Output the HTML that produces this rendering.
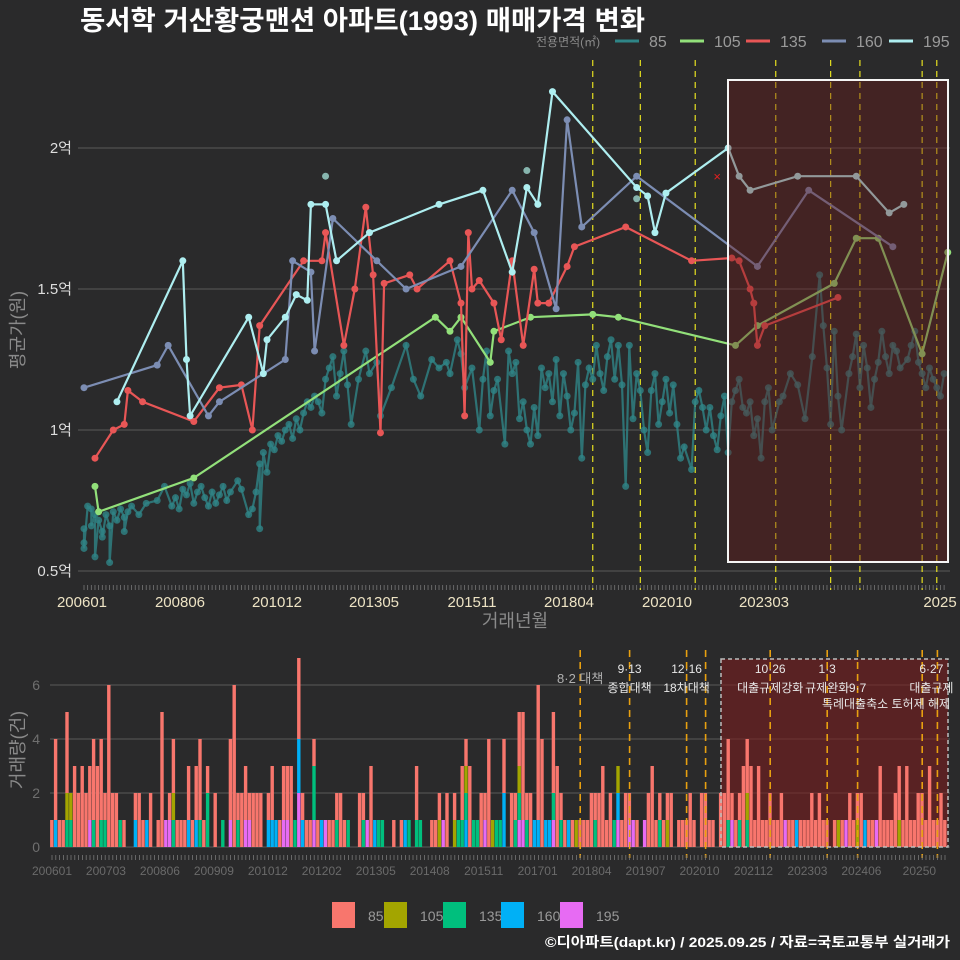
<!DOCTYPE html>
<html><head><meta charset="utf-8">
<style>
html,body{margin:0;padding:0;background:#2a2a2b;}
svg{display:block;font-family:"Liberation Sans","Noto Sans CJK KR",sans-serif;}
</style></head>
<body>
<svg id="chart" width="960" height="960" viewBox="0 0 960 960" xmlns="http://www.w3.org/2000/svg">
<rect x="0" y="0" width="960" height="960" fill="#2a2a2b"/>
<text x="80" y="30" fill="#ffffff" font-size="27" font-weight="bold" textLength="565" lengthAdjust="spacingAndGlyphs">동서학 거산황궁맨션 아파트(1993) 매매가격 변화</text>
<g id="topLegend">
<text x="536" y="46" fill="#8a8a8a" font-size="12">전용면적(㎡)</text>
</g>
<g id="topPanel"></g>
<g id="bottomPanel"></g>
<g id="botLegend"></g>
<text x="950" y="947" text-anchor="end" fill="#ffffff" font-size="14" font-weight="bold" textLength="405" lengthAdjust="spacingAndGlyphs">©디아파트(dapt.kr) / 2025.09.25 / 자료=국토교통부 실거래가</text>
</svg>
<script>
// ---------- data (months since 2006-01) ----------
const sizeLabels = ["85","105","135","160","195"];
const lineColors = ["#2f8587","#92e07a","#e85656","#7c8db3","#aeeef0"];
const barColors = ["#f8766d","#a3a500","#00bf7d","#00b0f6","#e76bf3"];

const t195 = [9,27,28,29,45,49,50,55,58,61,62,66,69,78,97,109,117,121,124,128,151,154,156,159,176,179,182,195,211,220,224];
const v195 = [1.10,1.60,1.25,1.05,1.40,1.20,1.32,1.40,1.48,1.46,1.80,1.80,1.60,1.70,1.80,1.85,1.56,1.86,1.80,2.20,1.86,1.83,1.70,1.84,2.00,1.90,1.85,1.90,1.90,1.77,1.80];
const t160 = [0,20,23,34,37,55,57,62,63,68,80,88,103,117,123,129,132,136,151,184,198,221];
const v160 = [1.15,1.23,1.30,1.05,1.10,1.25,1.60,1.56,1.28,1.75,1.60,1.50,1.58,1.85,1.70,1.43,2.10,1.72,1.90,1.58,1.85,1.65];
const t135 = [3,8,11,12,16,30,37,43,46,48,60,65,66,71,74,77,79,81,82,89,91,100,103,104,105,106,108,112,114,117,120,123,124,127,132,134,148,166,177,179,182,183,184,186,206];
const v135 = [0.90,1.00,1.02,1.14,1.10,1.03,1.15,1.16,1.00,1.37,1.60,1.60,1.70,1.30,1.50,1.79,1.55,0.99,1.52,1.55,1.50,1.60,1.45,1.05,1.70,1.50,1.53,1.45,1.32,1.60,1.30,1.57,1.45,1.45,1.58,1.65,1.72,1.60,1.61,1.60,1.50,1.45,1.30,1.37,1.47];
const t105 = [3,4,30,96,100,103,111,112,122,139,146,178,184,205,211,217,229,236];
const v105 = [0.80,0.71,0.83,1.40,1.35,1.40,1.24,1.35,1.40,1.41,1.40,1.30,1.37,1.52,1.68,1.68,1.27,1.63];
const t85 = [0,0,0,1,2,2,3,3,4,5,5,6,7,7,8,9,10,11,11,12,13,15,17,20,22,24,25,26,27,28,29,30,31,32,33,34,35,36,37,38,39,40,42,43,45,46,47,48,48,49,50,51,52,53,54,55,56,57,58,59,60,61,62,63,64,65,66,67,68,69,70,71,72,73,75,77,78,80,81,84,88,90,92,95,97,99,100,102,103,104,106,108,109,110,111,112,113,115,116,117,118,119,120,121,122,123,124,125,126,127,128,129,130,131,132,133,134,135,136,137,138,139,140,141,142,143,144,145,146,147,148,149,150,151,152,153,154,155,156,157,158,159,160,161,162,163,164,166,167,168,169,170,171,172,173,174,175,176,177,178,179,180,181,182,183,184,185,186,187,188,190,191,193,195,197,199,201,202,203,204,205,206,207,209,210,211,212,213,214,215,216,217,218,219,220,221,222,223,225,226,227,228,229,230,231,232,233,234,235];
const v85 = [0.65,0.60,0.58,0.73,0.72,0.66,0.70,0.55,0.68,0.64,0.62,0.70,0.66,0.53,0.71,0.68,0.72,0.69,0.64,0.71,0.73,0.70,0.74,0.75,0.80,0.73,0.76,0.72,0.79,0.77,0.81,0.74,0.78,0.80,0.76,0.73,0.78,0.74,0.77,0.80,0.75,0.78,0.82,0.79,0.70,0.72,0.78,0.88,0.65,0.92,0.85,0.95,0.93,0.98,0.96,1.00,1.02,0.97,1.04,1.00,1.06,1.10,1.08,1.12,1.10,1.06,1.18,1.22,1.26,1.12,1.20,1.28,1.16,1.02,1.18,1.28,1.20,1.24,1.05,1.15,1.30,1.18,1.12,1.25,1.22,1.24,1.20,1.32,1.27,1.15,1.22,1.00,1.18,1.28,1.05,1.14,1.18,0.95,1.28,1.20,1.24,1.04,1.10,1.00,0.95,1.08,0.98,1.22,1.15,1.20,1.10,1.25,1.05,1.20,1.12,1.00,1.06,1.24,0.90,1.16,1.22,1.18,1.30,1.20,1.14,1.26,1.32,1.18,1.30,1.16,0.80,1.30,1.04,1.20,1.14,1.00,0.92,1.14,1.20,1.02,1.10,1.18,1.06,1.16,1.02,0.90,0.94,0.86,1.10,1.14,1.08,1.00,1.08,0.98,0.93,1.05,1.12,0.92,1.10,1.14,1.18,1.08,1.06,1.10,0.98,1.04,0.90,1.10,1.15,1.00,1.10,1.12,1.20,1.16,1.04,1.26,1.55,1.37,1.22,1.02,1.35,1.12,1.00,1.20,1.26,1.34,1.15,1.30,1.22,1.08,1.18,1.24,1.35,1.26,1.20,1.30,1.28,1.22,1.25,1.30,1.35,1.24,1.20,1.15,1.22,1.18,1.15,1.12,1.20];
const extra195T = [66,121,151];
const extra195V = [1.90,1.92,1.82];

const priceTicks = [0.5,1,1.5,2];
const priceTickLabels = ["0.5억","1억","1.5억","2억"];
const topXLabels = ["200601","200806","201012","201305","201511","201804","202010","202303","2025"];
const topXLabelPos = [82,180,277,374,472,569,667,764,940];

const policyMonths = [139,152,167,189,204,212,229,233];
const botExtraLine = [172];
const policyTop = ["8·2 대책","9·13","12·16","10·26","1·3","","","6·27"];
const policyBottom = ["","종합대책","18차대책","대출규제강화","규제완화","9·7","","대출규제"];

const volTotal = [1,4,1,1,5,2,3,2,3,2,3,4,3,4,2,6,2,2,1,1,0,0,2,2,1,1,2,0,1,5,1,2,4,1,1,1,3,1,3,4,1,3,0,2,0,1,0,4,6,2,2,3,2,2,2,2,0,2,3,1,1,3,3,3,1,7,2,1,1,4,1,1,1,1,1,2,2,1,1,0,0,2,2,1,3,1,1,1,0,0,1,0,1,1,1,0,3,1,0,0,1,1,2,1,2,0,2,1,3,4,3,1,1,2,2,4,1,1,1,4,0,2,2,5,5,2,2,1,6,4,1,1,5,3,2,1,1,1,1,1,1,1,2,2,2,3,1,2,1,3,1,2,2,1,1,0,1,2,3,1,2,1,2,2,0,1,1,1,2,1,0,2,2,1,1,0,2,2,4,2,1,2,3,4,3,1,3,1,1,2,1,1,2,1,1,1,1,1,1,1,2,1,2,1,1,0,1,1,1,1,2,1,2,2,1,1,1,1,3,1,1,1,2,3,1,3,1,1,2,2,1,3,1,1,2,1];
const vol105 = [[4,1],[5,1],[32,1],[102,1],[106,1],[109,1],[116,1],[123,1],[138,1],[149,1],[162,1],[183,1],[207,1],[212,1],[223,1]];
const vol135 = [[4,1],[5,1],[11,1],[13,1],[14,1],[18,1],[32,1],[39,1],[41,2],[45,1],[49,1],[64,1],[69,2],[75,1],[78,1],[82,1],[86,1],[87,1],[94,1],[96,1],[97,1],[107,1],[108,1],[109,1],[111,1],[112,1],[117,1],[118,1],[122,1],[123,1],[125,1],[132,1],[134,1],[143,1],[148,1],[160,1],[178,1],[181,1],[183,1]];
const vol160 = [[1,1],[22,1],[25,1],[36,1],[38,1],[57,1],[58,1],[59,1],[65,2],[66,1],[71,1],[85,1],[93,1],[109,1],[119,2],[127,1],[128,1],[130,1],[131,1],[136,1],[149,1],[196,1],[214,1]];
const vol195 = [[10,1],[30,1],[31,1],[47,1],[51,1],[52,1],[61,1],[62,1],[65,2],[69,1],[72,1],[83,1],[103,1],[114,1],[123,1],[124,1],[132,1],[149,1],[152,1],[153,1],[156,1],[179,1],[193,1],[209,1],[217,1]];
const volTicks = [0,2,4,6];
const botXLabels = ["200601","200703","200806","200909","201012","201202","201305","201408","201511","201701","201804","201907","202010","202112","202303","202406","20250"];

// ---------- axes ----------
const NS = "http://www.w3.org/2000/svg";
const xTop = m => 84 + m * 3.66;
const yTop = v => 571 - (v - 0.5) * 282;
const xBot = m => 52 + m * 3.8;
const yBot = n => 847 - n * 27;
function mk(tag, attrs, parent){ const e=document.createElementNS(NS,tag); for(const k in attrs) e.setAttribute(k,attrs[k]); parent.appendChild(e); return e; }

const topG = document.getElementById('topPanel');
const botG = document.getElementById('bottomPanel');
const tl = document.getElementById('topLegend');
const bl = document.getElementById('botLegend');

const legX = [615,680,746,822,889];
sizeLabels.forEach((s,i)=>{
  const lx = legX[i];
  const ln = mk('line',{x1:lx,y1:41,x2:lx+24,y2:41,stroke:lineColors[i],'stroke-width':3},tl);
  
  
  const tx = mk('text',{x:lx+34,y:47,fill:'#9a9a9a','font-size':16},tl);
  tx.textContent = s;
  
  
});

priceTicks.forEach((v,i)=>{
  const g = mk('line',{x1:78,x2:950,y1:yTop(v),y2:yTop(v),stroke:'#5a5a5a','stroke-width':1},topG);
  
  
  const t = mk('text',{x:72,y:yTop(v)+5,'text-anchor':'end',fill:'#dedede','font-size':15},topG);
  t.textContent = priceTickLabels[i];
  
  
});
for(let m=0;m<=235;m++){
  const k = mk('line',{x1:xTop(m),x2:xTop(m),y1:585,y2:590,stroke:'#777','stroke-width':0.8},topG);
  
  
}
topXLabels.forEach((s,i)=>{
  const t = mk('text',{x:topXLabelPos[i],y:607,'text-anchor':'middle',fill:'#ede3c4','font-size':15},topG);
  t.textContent = s;
  
  
});
const xt = mk('text',{x:515,y:627,'text-anchor':'middle',fill:'#8a8a8a','font-size':18},topG);
xt.textContent='거래년월';


const yt = mk('text',{x:0,y:0,'text-anchor':'middle',fill:'#8a8a8a','font-size':18,transform:'translate(24,330) rotate(-90)'},topG);
yt.textContent='평균가(원)';



policyMonths.forEach(m=>{
  const l = mk('line',{x1:xTop(m),x2:xTop(m),y1:60,y2:590,stroke:'#e6e020','stroke-width':1.2,'stroke-dasharray':'6,5'},topG);
  
  
});

function drawSeries(ts, vs, color, name, op){
  const d = ts.map((t,i)=>(i?'L':'M')+xTop(t).toFixed(1)+','+yTop(vs[i]).toFixed(1)).join(' ');
  const p = mk('path',{d:d,fill:'none',stroke:color,'stroke-width':2.2,'stroke-opacity':op},topG);
  
  
  ts.forEach((t,i)=>{
    const c = mk('circle',{cx:xTop(t),cy:yTop(vs[i]),r:3.5,fill:color,'fill-opacity':op},topG);
    
    
  });
}
drawSeries(t85,v85,lineColors[0],'85',0.8);
drawSeries(t105,v105,lineColors[1],'105',1);
drawSeries(t135,v135,lineColors[2],'135',1);
drawSeries(t160,v160,lineColors[3],'160',1);
drawSeries(t195,v195,lineColors[4],'195',1);
extra195T.forEach((t,i)=>{
  const c = mk('circle',{cx:xTop(t),cy:yTop(extra195V[i]),r:3.5,fill:'#9fd8d0','fill-opacity':0.8},topG);
  
  
});
const xm = mk('text',{x:xTop(173),y:yTop(1.9)+5,'text-anchor':'middle',fill:'#e02020','font-size':13},topG);
xm.textContent='×';



const hr = mk('rect',{x:728,y:80,width:220,height:482,fill:'#6a1a1a','fill-opacity':0.4,stroke:'#f4f4f4','stroke-width':2},topG);



// ---------- bottom panel ----------
volTicks.forEach(n=>{
  const g = mk('line',{x1:50,x2:950,y1:yBot(n),y2:yBot(n),stroke:'#5a5a5a','stroke-width':1},botG);
  
  
  const t = mk('text',{x:40,y:yBot(n)+5,'text-anchor':'end',fill:'#6f6f6f','font-size':14},botG);
  t.textContent = n;
  
  
});
const bh = mk('rect',{x:721,y:659,width:227,height:188,fill:'#7a1e1e','fill-opacity':0.6},botG);



const others = [vol105,vol135,vol160,vol195];
volTotal.forEach((tot,m)=>{
  const parts = [0,0,0,0,0];
  others.forEach((arr,k)=>{ arr.forEach(e=>{ if(e[0]===m) parts[k+1]+=e[1]; }); });
  parts[0] = Math.max(0, tot - parts[1]-parts[2]-parts[3]-parts[4]);
  let base = 0;
  for(let k=4;k>=0;k--){
    if(!parts[k]) continue;
    const r = mk('rect',{x:xBot(m)-1.9,y:yBot(base+parts[k]),width:3.4,height:parts[k]*27,fill:barColors[k]},botG);
    
    
    base += parts[k];
  }
});
policyMonths.concat(botExtraLine).forEach(m=>{
  const l = mk('line',{x1:xBot(m),x2:xBot(m),y1:650,y2:858,stroke:'#e8a010','stroke-width':1.6,'stroke-dasharray':'7,5'},botG);
  
  
});
const bb = mk('rect',{x:721,y:659,width:227,height:188,fill:'none',stroke:'#bdbdbd','stroke-width':1.5,'stroke-dasharray':'4,3'},botG);


const lblOff = [0,0,0,0,0,0,0,-6];
policyMonths.forEach((m,i)=>{
  const x = xBot(m)+lblOff[i];
  if(policyTop[i]){
    const t = mk('text',{x:x,y:i===0?683:673,'text-anchor':'middle',fill:i===0?'#b0b0b0':'#e8e8e8','font-size':i===0?13:12},botG);
    t.textContent = policyTop[i];
    
    
  }
  if(policyBottom[i]){
    const t = mk('text',{x:x,y:692,'text-anchor':'middle',fill:'#e8e8e8','font-size':12},botG);
    t.textContent = policyBottom[i];
    
    
  }
});
const pe = mk('text',{x:886,y:708,'text-anchor':'middle',fill:'#e8e8e8','font-size':12},botG);
pe.textContent='특례대출축소 토허제 해제';



for(let m=0;m<=235;m++){
  const k = mk('line',{x1:xBot(m),x2:xBot(m),y1:855,y2:860,stroke:'#777','stroke-width':0.8},botG);
  
  
}
botXLabels.forEach((s,i)=>{
  const t = mk('text',{x:xBot(i*14.2)+(i===16?4:0),y:875,'text-anchor':'middle',fill:'#6a6a6a','font-size':12},botG);
  t.textContent = s;
  
  
});
const vt = mk('text',{x:0,y:0,'text-anchor':'middle',fill:'#8a8a8a','font-size':18,transform:'translate(24,750) rotate(-90)'},botG);
vt.textContent='거래량(건)';



const bx = [332,384,443,501,560];
sizeLabels.forEach((s,i)=>{
  const r = mk('rect',{x:bx[i],y:902,width:23,height:26,fill:barColors[i]},bl);
  
  
  const t = mk('text',{x:bx[i]+36,y:921,fill:'#9a9a9a','font-size':14},bl);
  t.textContent = s;
  
  
});
</script>
</body></html>
